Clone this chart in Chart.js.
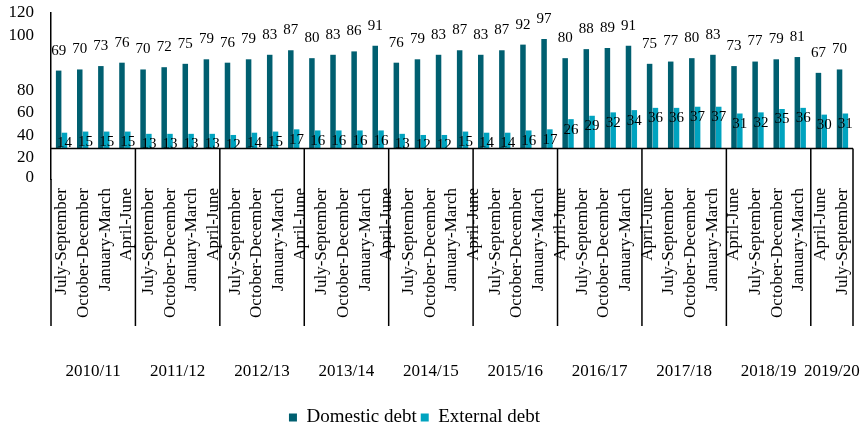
<!DOCTYPE html>
<html>
<head>
<meta charset="utf-8">
<title>Domestic and external debt</title>
<script src="https://cdn.jsdelivr.net/npm/chart.js@4/dist/chart.umd.min.js"></script>
<style>
  html, body { margin: 0; padding: 0; background: #fff; }
  #wrap { width: 865px; height: 427px; position: relative; }
</style>
</head>
<body>
<div id="wrap"><canvas id="debtChart"></canvas></div>
<script>
// fiscal years and how many quarters each one has
const years = ['2010/11', '2011/12', '2012/13', '2013/14', '2014/15', '2015/16', '2016/17', '2017/18', '2018/19', '2019/20'];
const quartersInYear = [4, 4, 4, 4, 4, 4, 4, 4, 4, 2];

const domestic = [69, 70, 73, 76, 70, 72, 75, 79, 76, 79, 83, 87, 80, 83, 86, 91, 76, 79, 83, 87,
                  83, 87, 92, 97, 80, 88, 89, 91, 75, 77, 80, 83, 73, 77, 79, 81, 67, 70];
const external = [14, 15, 15, 15, 13, 13, 13, 13, 12, 14, 15, 17, 16, 16, 16, 16, 13, 12, 12, 15,
                  14, 14, 16, 17, 26, 29, 32, 34, 36, 36, 37, 37, 31, 32, 35, 36, 30, 31];

// quarter captions under the bars
const quarterTicks = [
  'July-September', 'October-December', 'January-March', 'April-June',
  'July-September', 'October-December', 'January-March', 'April-June',
  'July-September', 'October-December', 'January-March', 'April-June',
  'July-September', 'October-December', 'January-March', 'April-June',
  'July-September', 'October-December', 'January-March', 'April-June',
  'July-September', 'October-December', 'January-March', 'April-June',
  'July-September', 'October-December', 'January-March', 'April-June',
  'July-September', 'October-December', 'January-March', 'April-June',
  'July-September', 'October-December', 'January-March', 'April-June',
  'July-September'
];
const yTickLabels = ['0', '20', '40', '60', '80', '100', '120'];

const categories = [];
years.forEach((yr, i) => {
  for (let q = 1; q <= quartersInYear[i]; q++) categories.push(yr + ' Q' + q);
});

// year boundaries; each year caption sits on the category just left of its middle
const yearEdges = [0];
quartersInYear.forEach(n => yearEdges.push(yearEdges[yearEdges.length - 1] + n));
const yearSlot = years.map((_, i) => yearEdges[i] + quartersInYear[i] / 2 - 1);

const SERIF = '"Liberation Serif", "Times New Roman", serif';

// fixed band heights below the plot
const fitBand = h => s => { s.paddingLeft = 0; s.paddingRight = 0; s.height = h; };

const framePlugin = {
  id: 'frame',
  afterLayout(chart) {
    // legend sits a little left of the canvas centre
    if (chart.legend) chart.legend.right -= 32;
  },
  afterDatasetsDraw(chart) {
    const { ctx, chartArea, scales } = chart;
    const x = scales.x;
    const base = scales.y.getPixelForValue(0);
    const lower = scales.xq.bottom - 1;
    ctx.save();
    ctx.strokeStyle = '#000';
    ctx.lineWidth = 1.5;
    ctx.beginPath();
    ctx.moveTo(chartArea.left, base);
    ctx.lineTo(chartArea.right, base);
    yearEdges.forEach(e => {
      const px = x.getPixelForValue(e - 0.5);
      ctx.moveTo(px, e === 0 ? chartArea.bottom : base);
      ctx.lineTo(px, lower);
    });
    ctx.stroke();

    // value captions
    ctx.font = '15px ' + SERIF;
    ctx.fillStyle = '#000';
    ctx.textAlign = 'center';
    ctx.textBaseline = 'middle';
    chart.data.datasets.forEach((ds, di) => {
      chart.getDatasetMeta(di).data.forEach((bar, i) => {
        const ty = di === 0 ? bar.y - 20 : bar.y + 10.5;
        ctx.fillText(String(ds.data[i]), bar.x, ty);
      });
    });
    ctx.restore();
  }
};

new Chart(document.getElementById('debtChart'), {
  type: 'bar',
  data: {
    labels: categories,
    datasets: [
      { label: 'Domestic debt', data: domestic, backgroundColor: '#005F70', xAxisID: 'x', yAxisID: 'y' },
      { label: 'External debt', data: external, backgroundColor: '#00A3BF', xAxisID: 'x', yAxisID: 'y' }
    ]
  },
  options: {
    responsive: true,
    maintainAspectRatio: false,
    animation: false,
    layout: { padding: { left: 8, right: 12, top: 13, bottom: -10 } },
    datasets: { bar: { categoryPercentage: 0.55, barPercentage: 0.95 } },
    plugins: {
      legend: {
        position: 'bottom',
        labels: { boxWidth: 8, boxHeight: 8, padding: 4, color: '#000', font: { family: SERIF, size: 19 } }
      },
      tooltip: { enabled: false }
    },
    scales: {
      x: {
        type: 'category', position: 'bottom', weight: 0, offset: true,
        grid: { display: false, drawTicks: false },
        border: { display: false },
        ticks: { display: false },
        afterFit: fitBand(0)
      },
      xq: {
        type: 'category', axis: 'x', position: 'bottom', weight: 1, offset: true,
        labels: quarterTicks,
        grid: { display: false, drawTicks: false },
        border: { display: false },
        ticks: { autoSkip: false, minRotation: 90, maxRotation: 90, padding: 9, color: '#000',
                 font: { family: SERIF, size: 17 } },
        afterFit: fitBand(148)
      },
      xy: {
        type: 'category', axis: 'x', position: 'bottom', weight: 2, offset: true,
        labels: categories,
        grid: { display: false, drawTicks: false },
        border: { display: false },
        ticks: { autoSkip: false, maxRotation: 0, labelOffset: 10.5, padding: 34, color: '#000',
                 font: { family: SERIF, size: 17 },
                 callback: (v, i) => { const g = yearSlot.indexOf(i); return g < 0 ? '' : years[g]; } },
        afterFit: fitBand(77)
      },
      y: {
        min: -27, max: 120,
        grid: { display: false, drawTicks: false },
        border: { display: true, color: '#000', width: 1.5 },
        afterBuildTicks: s => { s.ticks = [-26, -8, 11.5, 31.5, 51, 100, 120].map(v => ({ value: v })); },
        afterFit: s => { s.width = 43; s.paddingTop = 0; s.paddingBottom = 0; },
        ticks: { autoSkip: false, padding: 17, color: '#000', font: { family: SERIF, size: 17 },
                 callback: (v, i) => yTickLabels[i] }
      }
    }
  },
  plugins: [framePlugin]
});
</script>
</body>
</html>
